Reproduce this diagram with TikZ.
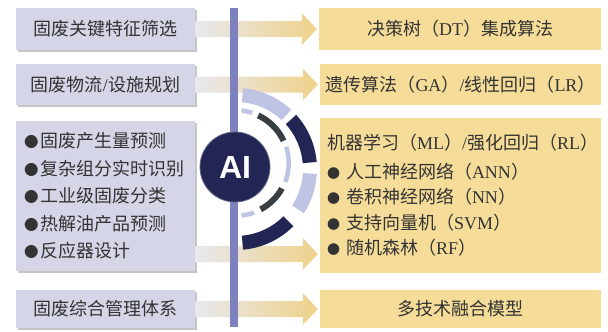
\documentclass[tikz,border=0pt]{standalone}
\usepackage{fontspec}
\setmainfont{Liberation Serif}
\newfontfamily\cjk{Noto Sans CJK SC}
\newfontfamily\latf{Liberation Serif}
\newfontfamily\aifont{Liberation Sans}
\newcommand\la[1]{{\latf #1}}
\usetikzlibrary{calc,shadows}
\definecolor{lboxc}{HTML}{D4D6E8}
\definecolor{rboxc}{HTML}{F5DC98}
\definecolor{barc}{HTML}{7D82BE}
\definecolor{navy}{HTML}{232655}
\definecolor{lav}{HTML}{C0C4E4}
\definecolor{dgray}{HTML}{373E44}
\definecolor{txt}{HTML}{333333}
\definecolor{argray}{HTML}{E8E8EE}
\definecolor{artan}{HTML}{EFD28A}
\newcommand\bodyfs{\fontsize{18}{21}\selectfont}
\newcommand\lbul{{\fontsize{14.5}{14.5}\selectfont ●}\hspace{2pt}}
\newcommand\rbul{{\fontsize{13}{13}\selectfont ●}\hspace{6pt}}
\newcommand\gradarrow[2]{%
  \shade[left color=argray, right color=artan]
    ($(#1)+(0,-8)$) -- ($(#2)+(-17,-8)$) -- ($(#2)+(-17,-16)$) -- ($(#2)+(-2,0)$)
    -- ($(#2)+(-17,16)$) -- ($(#2)+(-17,8)$) -- ($(#1)+(0,8)$) -- cycle;}
\newcommand\ringseg[6]{%
  \fill[#1] ($(#2)+(#3:#5)$) arc[start angle=#3, end angle=#4, radius=#5]
    -- ($(#2)+(#4:#6)$) arc[start angle=#4, end angle=#3, radius=#6] -- cycle;}
\begin{document}
\begin{tikzpicture}[x=1pt,y=-1pt,
  lbox/.style={fill=lboxc, minimum width=179pt, inner sep=0pt, text=txt,
    font=\cjk\bodyfs,
    drop shadow={shadow xshift=1.5pt, shadow yshift=-1.5pt, opacity=0.45, fill=black!50}},
  rbox/.style={fill=rboxc, minimum width=281pt, inner sep=0pt, text=txt, font=\cjk\bodyfs}]
\useasboundingbox (0,0) rectangle (608,332);
\fill[white] (0,0) rectangle (608,332);
% left boxes
\node[lbox, minimum height=42pt] (L1) at (105.5,29) {固废关键特征筛选};
\node[lbox, minimum height=41pt] (L2) at (105.5,84.5) {固废物流\la{/}设施规划};
\node[lbox, minimum height=150pt, align=left, text width=163pt, inner xsep=8pt,
  font=\cjk\fontsize{18}{27.5}\selectfont] (L3) at (105.5,196)
  {\lbul 固废产生量预测\\\lbul 复杂组分实时识别\\\lbul 工业级固废分类\\\lbul 热解油产品预测\\\lbul 反应器设计};
\node[lbox, minimum height=38pt] (L4) at (105.5,309) {固废综合管理体系};
% right boxes
\node[rbox, minimum width=282pt, minimum height=42pt] (R1) at (460,29) {决策树（\la{DT}）集成算法};
\node[rbox, minimum height=41pt] (R2) at (460.5,84.5) {遗传算法（\la{GA}）\la{/}线性回归（\la{LR}）};
\node[rbox, minimum height=155pt, align=left, text width=267pt, inner xsep=7pt,
  font=\cjk\fontsize{18}{25.5}\selectfont] (R3) at (460.5,195.5)
  {机器学习（\la{ML}）\la{/}强化回归（\la{RL}）\\[3pt]
   \rbul 人工神经网络（\la{ANN}）\\
   \rbul 卷积神经网络（\la{NN}）\\
   \rbul 支持向量机（\la{SVM}）\\
   \rbul 随机森林（\la{RF}）};
\node[rbox, minimum height=38pt] (R4) at (460.5,309) {多技术融合模型};
% arrows
\coordinate (y3) at (0,254);
\coordinate (a1) at (L1.east); \coordinate (b1) at (R1.west);
\coordinate (a2) at (L2.east); \coordinate (b2) at (R2.west);
\coordinate (a3) at (L3.east |- y3); \coordinate (b3) at (R3.west |- y3);
\coordinate (a4) at (L4.east); \coordinate (b4) at (R4.west);
\gradarrow{a1}{b1}
\gradarrow{a2}{b2}
\gradarrow{a3}{b3}
\gradarrow{a4}{b4}
% vertical bar
\node[fill=barc, minimum width=8pt, minimum height=319pt, inner sep=0pt] (bar) at (234,167.5) {};
% rings
\coordinate (oc) at (236,169);
\coordinate (ic) at (236,163);
\ringseg{lav}{oc}{-85}{-47}{81}{67}
\ringseg{navy}{oc}{-42}{-5}{81}{67}
\ringseg{lav}{oc}{3.5}{33}{81}{67}
\ringseg{navy}{oc}{45}{85}{81}{67}
\ringseg{lav}{ic}{-84}{-72}{55}{50.5}
\ringseg{white}{ic}{-71}{-66}{55.5}{50}
\ringseg{dgray}{ic}{-65}{-25}{55.5}{49.5}
\ringseg{lav}{ic}{-18}{21}{55}{50.5}
\ringseg{dgray}{ic}{29}{62}{55.5}{49.5}
\ringseg{lav}{ic}{70}{84}{55}{50.5}
% AI circle
\node[circle, fill=navy, draw=navy!70!white, line width=0.8pt, minimum size=70pt, inner sep=0pt,
  text=white, font=\aifont\bfseries\fontsize{32}{32}\selectfont] (ai) at (235,167) {AI};
\end{tikzpicture}
\end{document}
